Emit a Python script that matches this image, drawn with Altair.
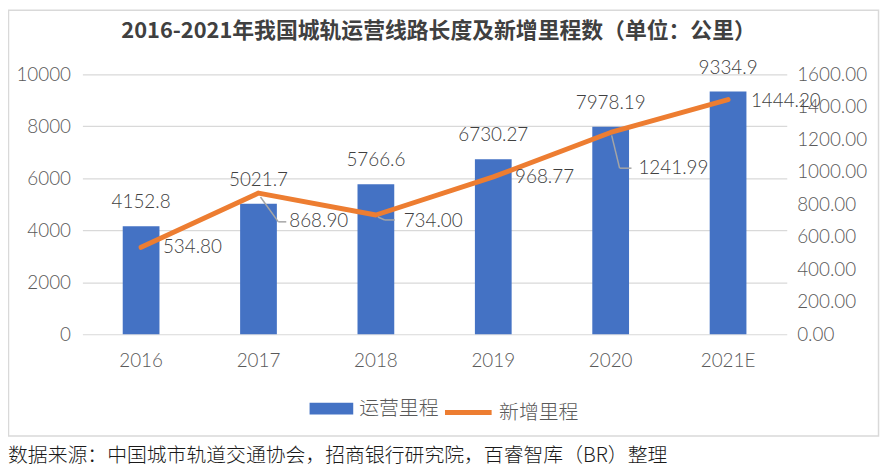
import altair as alt
import pandas as pd

# ---------------- data ----------------
YEARS = ["2016", "2017", "2018", "2019", "2020", "2021E"]
OPERATING = [4152.8, 5021.7, 5766.6, 6730.27, 7978.19, 9334.9]   # 运营里程 (left axis)
NEW_ADDED = [534.80, 868.90, 734.00, 968.77, 1241.99, 1444.20]   # 新增里程 (right axis)
SERIES = ["运营里程", "新增里程"]
LEFT_TICKS = [0, 2000, 4000, 6000, 8000, 10000]
RIGHT_TICKS = [0, 200, 400, 600, 800, 1000, 1200, 1400, 1600]
TITLE = "2016-2021年我国城轨运营线路长度及新增里程数（单位：公里）"
SOURCE = "数据来源：中国城市轨道交通协会，招商银行研究院，百睿智库（BR）整理"

FONT = "Noto Sans CJK SC"
NUM_FONT = "Lato"
BLUE = "#4472C4"
ORANGE = "#ED7D31"
GRID = "#D9D9D9"
AXIS_TXT = "#595959"
LABEL_TXT = "#404040"

df = pd.DataFrame({"year": YEARS, "ops": OPERATING, "new": NEW_ADDED})
df["ops_label"] = [str(v) for v in OPERATING]
df["s_ops"] = SERIES[0]
df["s_new"] = SERIES[1]

base = alt.Chart(df)

x_enc = alt.X(
    "year:N",
    sort=YEARS,
    scale=alt.Scale(paddingInner=0.687, paddingOuter=0.3435),
    axis=alt.Axis(title=None, labelAngle=0, domain=False, ticks=False,
                  labelPadding=18, labelFontSize=19, labelColor=AXIS_TXT,
                  labelFont=NUM_FONT, labelFontWeight=300, grid=False),
)

y_left = alt.Y(
    "ops:Q",
    scale=alt.Scale(domain=[0, 10000], nice=False),
    axis=alt.Axis(title=None, values=LEFT_TICKS, tickCount=len(LEFT_TICKS),
                  format="d", domain=False, ticks=False, labelPadding=12,
                  labelFontSize=19, labelColor=AXIS_TXT, labelFont=NUM_FONT,
                  labelFontWeight=300, labelOverlap=False, grid=True,
                  gridColor=GRID, gridWidth=1.2),
)

y_right = alt.Y(
    "new:Q",
    scale=alt.Scale(domain=[0, 1600], nice=False),
    axis=alt.Axis(title=None, orient="right", values=RIGHT_TICKS,
                  tickCount=len(RIGHT_TICKS), format=".2f", domain=False,
                  ticks=False, labelPadding=10, labelFontSize=19,
                  labelColor=AXIS_TXT, labelFont=NUM_FONT, labelFontWeight=300,
                  labelOverlap=False, grid=False),
)

bars = base.mark_bar().encode(
    x=x_enc,
    y=y_left,
    fill=alt.Fill(
        "s_ops:N",
        scale=alt.Scale(domain=[SERIES[0]], range=[BLUE]),
        legend=alt.Legend(orient="none", legendX=229, legendY=315, title=None,
                          symbolType="M-1,-0.27H1V0.27H-1Z", symbolSize=1936,
                          symbolStrokeWidth=0, labelFontSize=20,
                          labelColor=AXIS_TXT, labelFont=FONT,
                          labelFontWeight=300, labelOffset=6, padding=0),
    ),
)

bar_labels = base.mark_text(
    dy=-24, baseline="middle", align="center", fontSize=19, font=NUM_FONT,
    fontWeight=300, color=LABEL_TXT,
).encode(x=alt.X("year:N", sort=YEARS), y=alt.Y("ops:Q"), text="ops_label:N")

left_layer = alt.layer(bars, bar_labels)

line = base.mark_line(strokeWidth=5, strokeCap="round", strokeJoin="round").encode(
    x=alt.X("year:N", sort=YEARS),
    y=y_right,
    stroke=alt.Stroke(
        "s_new:N",
        scale=alt.Scale(domain=[SERIES[1]], range=[ORANGE]),
        legend=alt.Legend(orient="none", legendX=363, legendY=315, title=None,
                          symbolType="stroke", symbolSize=2209,
                          symbolStrokeWidth=5, labelFontSize=20,
                          labelColor=AXIS_TXT, labelFont=FONT,
                          labelFontWeight=300, labelOffset=5, padding=0),
    ),
)

# label offsets (pixels) for the line's data labels
line_label_offsets = {
    "2016": (22, 0), "2017": (31, 28), "2018": (28, 6),
    "2019": (22, 0), "2020": (28, 36), "2021E": (23, 1),
}
line_labels = []
for yr, (ddx, ddy) in line_label_offsets.items():
    line_labels.append(
        base.transform_filter(alt.datum.year == yr).mark_text(
            dx=ddx, dy=ddy, align="left", baseline="middle", fontSize=19,
            font=NUM_FONT, fontWeight=300, color=LABEL_TXT,
        ).encode(x=alt.X("year:N", sort=YEARS), y=alt.Y("new:Q"),
                 text=alt.Text("new:Q", format=".2f"))
    )

# leader lines (pixel offsets from the data point)
leaders_spec = {
    "2017": [(2, 4, 20, 29), (20, 29, 28, 29)],
    "2018": [(2, 2, 9, 5), (9, 5, 19, 5)],
    "2020": [(1, 3, 9, 36), (9, 36, 21, 36)],
}
leaders = []
for yr, segs in leaders_spec.items():
    for (a, b, c, d) in segs:
        leaders.append(
            base.transform_filter(alt.datum.year == yr).mark_rule(
                color="#A5A5A5", strokeWidth=1.5,
                xOffset=a, yOffset=b, x2Offset=c, y2Offset=d,
            ).encode(
                x=alt.X("year:N", sort=YEARS, bandPosition=0.5),
                x2=alt.X2("year"),
                y=alt.Y("new:Q"),
                y2=alt.Y2("new"),
            )
        )

right_layer = alt.layer(line, *leaders, *line_labels)

one = pd.DataFrame({"title": [TITLE], "source": [SOURCE]})
frame = alt.Chart(one).mark_rect(
    fillOpacity=0, stroke=GRID, strokeWidth=1.5
).encode(x=alt.value(-74.5), x2=alt.value(802.5), y=alt.value(-64.5), y2=alt.value(364.5))

title = alt.Chart(one).mark_text(
    fontSize=22, fontWeight="bold", font=FONT, color=LABEL_TXT,
    align="center", baseline="middle",
).encode(x=alt.value(359), y=alt.value(-44), text="title:N")

source = alt.Chart(one).mark_text(
    fontSize=20, font=FONT, fontWeight=300, color="#1a1a1a", align="left",
    baseline="middle",
).encode(x=alt.value(-75), y=alt.value(385), text="source:N")

chart = alt.layer(frame, left_layer, right_layer, title, source).resolve_scale(
    y="independent"
).properties(
    width=710, height=262,
    autosize=alt.AutoSizeParams(type="none"),
    padding={"left": 75, "top": 65, "right": 95, "bottom": 132},
    background="white",
).configure_view(stroke=None)

chart.save("out.html", embed_options={"renderer": "svg", "actions": False})
